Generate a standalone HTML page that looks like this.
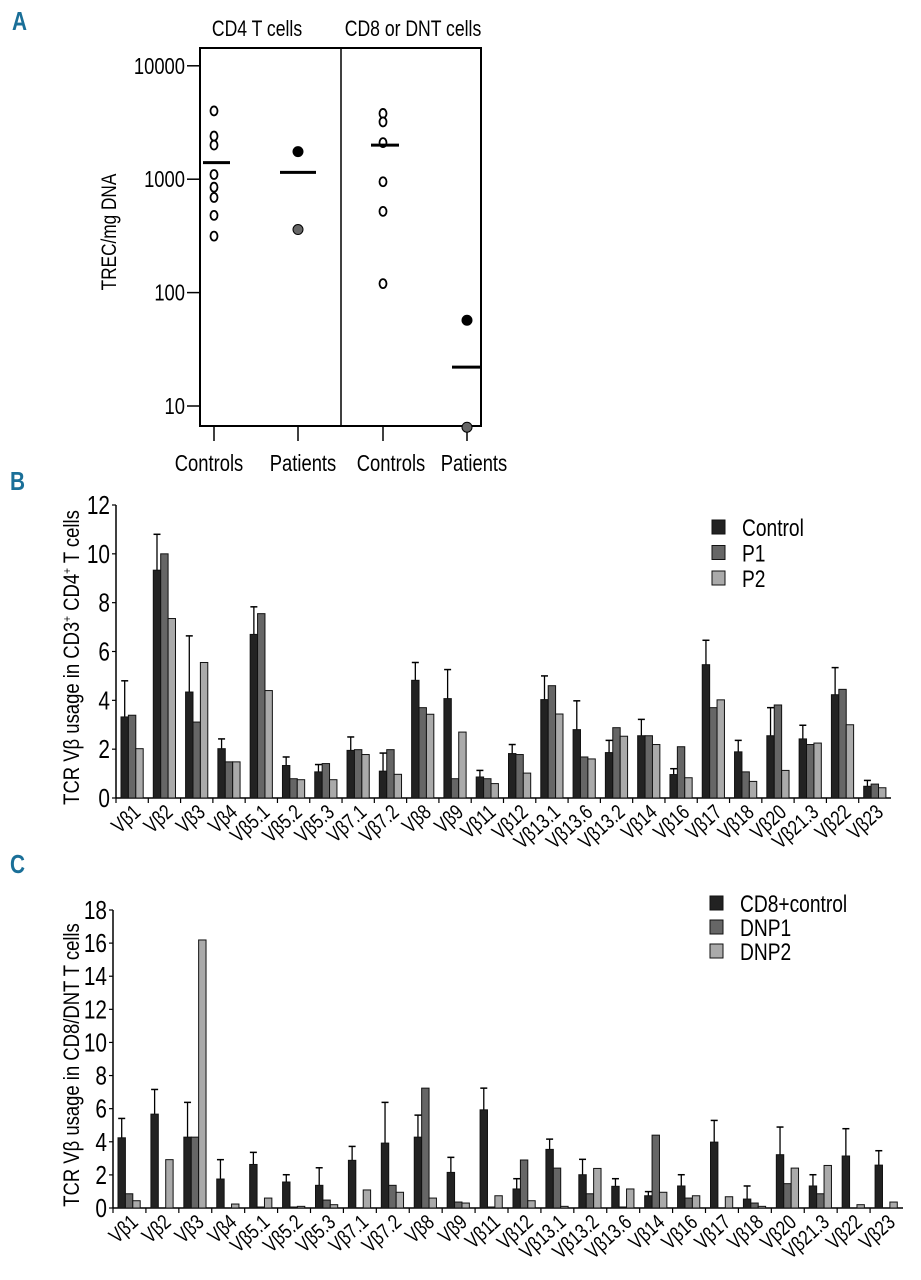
<!DOCTYPE html>
<html><head><meta charset="utf-8">
<style>
body{margin:0;background:#fff;}
svg{display:block;font-family:"Liberation Sans Narrow","Liberation Sans",sans-serif;}
</style></head>
<body>
<svg id="fig" width="921" height="1280" viewBox="0 0 921 1280" xmlns="http://www.w3.org/2000/svg">
<text x="12" y="30" font-size="26" font-weight="bold" fill="#1a6f98" transform="translate(12,30) scale(0.8,1) translate(-12,-30)">A</text>
<text x="10" y="490" font-size="26" font-weight="bold" fill="#1a6f98" transform="translate(10,490) scale(0.8,1) translate(-10,-490)">B</text>
<text x="10" y="873" font-size="26" font-weight="bold" fill="#1a6f98" transform="translate(10,873) scale(0.8,1) translate(-10,-873)">C</text>
<g id="pa"></g>
<g id="pb"></g>
<g id="pc"></g>
</svg>
<script>
const NS="http://www.w3.org/2000/svg";
// ---- Panel A data ----
const aGroups=["Controls","Patients","Controls","Patients"];
const aHeaders=["CD4 T cells","CD8 or DNT cells"];
const aTicks=[10,100,1000,10000];
const aCD4Controls=[4000,2400,2000,1100,850,690,480,315];
const aCD4Patients=[1750,360];
const aCD8Controls=[3800,3200,2100,950,520,120];
const aCD8Patients=[57,6.5];
const aMeans=[1400,1150,2000,22];
// ---- Panel B data ----
const vCats=["Vβ1","Vβ2","Vβ3","Vβ4","Vβ5.1","Vβ5.2","Vβ5.3","Vβ7.1","Vβ7.2","Vβ8","Vβ9","Vβ11","Vβ12","Vβ13.1","Vβ13.6","Vβ13.2","Vβ14","Vβ16","Vβ17","Vβ18","Vβ20","Vβ21.3","Vβ22","Vβ23"];
const bControl=[3.32,9.33,4.34,2.02,6.7,1.33,1.07,1.95,1.1,4.82,4.07,0.86,1.82,4.03,2.8,1.86,2.55,0.96,5.46,1.89,2.55,2.42,4.23,0.48];
const bP1=[3.39,10.0,3.11,1.48,7.55,0.79,1.41,1.98,1.98,3.7,0.79,0.79,1.78,4.6,1.68,2.88,2.55,2.1,3.7,1.07,3.81,2.19,4.45,0.57];
const bP2=[2.02,7.35,5.55,1.48,4.4,0.75,0.75,1.78,0.97,3.43,2.7,0.59,1.02,3.44,1.6,2.53,2.19,0.83,4.02,0.68,1.13,2.25,3.0,0.42];
const bErr=[4.8,10.8,6.64,2.42,7.83,1.68,1.37,2.5,1.84,5.55,5.26,1.13,2.19,5.0,3.98,2.36,3.22,1.2,6.46,2.36,3.7,2.98,5.34,0.72];
const bTicks=[0,2,4,6,8,10,12];
const bSeries=["Control","P1","P2"];
// ---- Panel C data ----
const cCats=["Vβ1","Vβ2","Vβ3","Vβ4","Vβ5.1","Vβ5.2","Vβ5.3","Vβ7.1","Vβ7.2","Vβ8","Vβ9","Vβ11","Vβ12","Vβ13.1","Vβ13.2","Vβ13.6","Vβ14","Vβ16","Vβ17","Vβ18","Vβ20","Vβ21.3","Vβ22","Vβ23"];
const cControl=[4.24,5.67,4.28,1.75,2.63,1.57,1.37,2.88,3.92,4.28,2.15,5.93,1.15,3.54,2.01,1.31,0.74,1.33,3.98,0.54,3.22,1.33,3.14,2.59];
const cDNP1=[0.86,0,4.28,0,0.06,0.06,0.48,0,1.37,7.24,0.36,0.06,2.9,2.41,0.86,0.06,4.4,0.6,0,0.3,1.47,0.86,0,0];
const cDNP2=[0.44,2.92,16.19,0.24,0.6,0.1,0.2,1.09,0.95,0.6,0.3,0.74,0.44,0.1,2.39,1.15,0.95,0.74,0.68,0.1,2.41,2.57,0.2,0.36];
const cErr=[5.41,7.16,6.38,2.92,3.36,2.01,2.43,3.72,6.38,5.61,3.06,7.24,1.77,4.16,2.94,1.77,0.99,2.01,5.29,1.33,4.89,2.01,4.79,3.46];
const cTicks=[0,2,4,6,8,10,12,14,16,18];
const cSeries=["CD8+control","DNP1","DNP2"];

function mk(parent,tag,attrs,text){const e=document.createElementNS(NS,tag);for(const k in attrs)e.setAttribute(k,attrs[k]);if(text!==undefined)e.textContent=text;parent.appendChild(e);return e;}
// condensed text
function ct(parent,x,y,str,size,anchor,rot,sx){
  return mk(parent,'text',{x:0,y:0,'font-size':size,'text-anchor':anchor||'start',transform:`translate(${x},${y}) rotate(${rot||0}) scale(${sx||0.8},1)`},str);
}

// ---- Panel A ----
(function(){
  const g=document.getElementById('pa');
  const yA=v=>406-(Math.log10(v)-1)*113.4;
  const xs=[214,298,383,467];
  const lx=[209,303,391,474];
  mk(g,'rect',{x:200,y:48,width:281,height:378,fill:'none',stroke:'#000','stroke-width':2});
  mk(g,'line',{x1:341,y1:48,x2:341,y2:426,stroke:'#000','stroke-width':1.5});
  aTicks.forEach(t=>{
    const tl=mk(g,'line',{x1:187,y1:yA(t),x2:200,y2:yA(t),stroke:'#000','stroke-width':1.5});
    
    
    const tx=ct(g,185,yA(t)+8,String(t),23,'end');
    
    
  });
  aGroups.forEach((c,i)=>{
    mk(g,'line',{x1:xs[i],y1:426,x2:xs[i],y2:441,stroke:'#000','stroke-width':1.5});
    const t=ct(g,lx[i],471,c,23,'middle');
    
    
  });
  [[257,aHeaders[0]],[413,aHeaders[1]]].forEach(h=>{
    const t=ct(g,h[0],36,h[1],22,'middle');
    
    
  });
  const yt=mk(g,'text',{x:0,y:0,'font-size':21,'text-anchor':'middle',transform:'translate(116,232) rotate(-90) scale(0.82,1)'},'TREC/mg DNA');
  
  
  function pts(arr,x,fill){arr.forEach((v,i)=>{
    const f=Array.isArray(fill)?fill[i]:fill;
    const c=mk(g,'ellipse',{cx:x,cy:yA(v),rx:f==='#fff'?3.5:5,ry:f==='#fff'?4.5:5,fill:f,stroke:'#000','stroke-width':f==='#fff'?1.8:1});
    
    
  });}
  pts(aCD4Controls,xs[0],'#fff');
  pts(aCD4Patients,xs[1],['#000','#666']);
  pts(aCD8Controls,xs[2],'#fff');
  pts(aCD8Patients,xs[3],['#000','#666']);
  const mx=[[203,230],[280,316],[371,399],[452,481]];
  aMeans.forEach((m,i)=>{
    const l=mk(g,'line',{x1:mx[i][0],y1:yA(m),x2:mx[i][1],y2:yA(m),stroke:'#000','stroke-width':3});
    
    
  });
})();

// ---- bar chart builder ----
function bars(gid,cats,series,errs,ticks,maxV,x0,x1,y0,yTop,title,legendNames,legX,legY,legDy){
  const g=document.getElementById(gid);
  const y=v=>y0-(v/maxV)*(y0-yTop);
  const gw=(x1-x0)/cats.length;
  const fills=['#222','#666','#aaa'];
  mk(g,'line',{x1:x0,y1:yTop,x2:x0,y2:y0,stroke:'#000','stroke-width':1.5});
  mk(g,'line',{x1:x0,y1:y0,x2:x1,y2:y0,stroke:'#000','stroke-width':1.5});
  ticks.forEach(t=>{
    mk(g,'line',{x1:x0-4,y1:y(t),x2:x0,y2:y(t),stroke:'#000','stroke-width':1.2});
    const tx=ct(g,x0-6,y(t)+9,String(t),26,'end');
    
    
  });
  cats.forEach((c,i)=>{
    const gx=x0+i*gw;
    mk(g,'line',{x1:gx,y1:y0,x2:gx,y2:y0+5,stroke:'#000','stroke-width':1.2});
    const bw=7.4, bx=gx+5;
    const e=mk(g,'line',{x1:bx+bw/2,y1:y(series[0][i]),x2:bx+bw/2,y2:y(errs[i]),stroke:'#000','stroke-width':1.3});
    
    
    mk(g,'line',{x1:bx+bw/2-3.5,y1:y(errs[i]),x2:bx+bw/2+3.5,y2:y(errs[i]),stroke:'#000','stroke-width':1.5});
    series.forEach((s,k)=>{
      const v=s[i];
      const r=mk(g,'rect',{x:bx+k*bw,y:y(v),width:bw,height:Math.max(0,y0-y(v)),fill:fills[k],stroke:'#111','stroke-width':1});
      
      
    });
    const t=ct(g,gx+gw*0.8,y0+16,c,21,'end',-42,0.8);
    
    
  });
  const yt=mk(g,'text',{x:0,y:0,'font-size':22,'text-anchor':'middle',transform:`translate(79,${(y0+yTop)/2+6}) rotate(-90) scale(0.84,1)`});
  yt.innerHTML=title;
  
  
  legendNames.forEach((n,k)=>{
    const sq=mk(g,'rect',{x:legX,y:legY+k*legDy-7,width:13,height:14,fill:fills[k],stroke:'#111','stroke-width':1});
    
    
    const t=ct(g,legX+30,legY+k*legDy+9,n,24,'start');
    
    
  });
}
bars('pb',vCats,[bControl,bP1,bP2],bErr,bTicks,12,116,891,798,505,
 'TCR Vβ usage in CD3<tspan font-size="12" dy="-8">+</tspan><tspan dy="8"> CD4</tspan><tspan font-size="12" dy="-8">+</tspan><tspan dy="8"> T cells</tspan>',
 bSeries,712,527,25.5);
bars('pc',cCats,[cControl,cDNP1,cDNP2],cErr,cTicks,18,113,903,1208,910,
 'TCR Vβ usage in CD8/DNT T cells',cSeries,710,903,24);
</script>
</body></html>
